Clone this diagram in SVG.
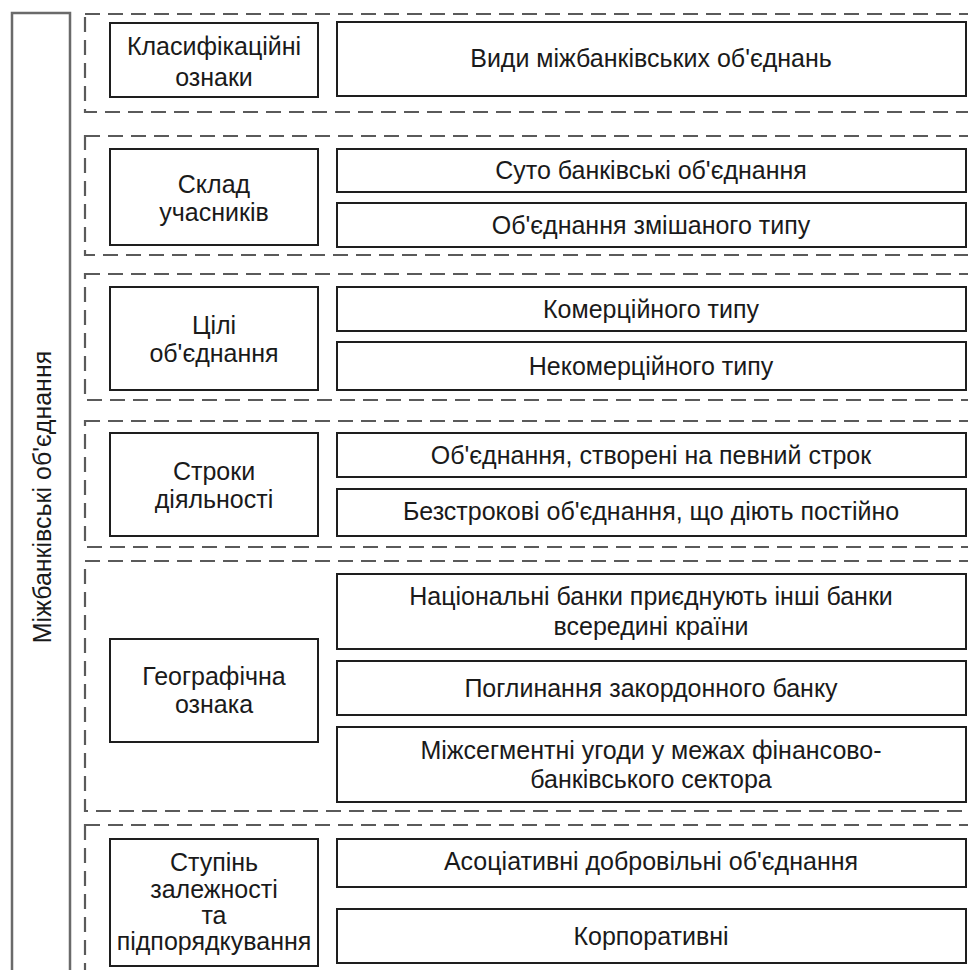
<svg xmlns="http://www.w3.org/2000/svg" width="968" height="970" viewBox="0 0 968 970">
<style>
.dash{fill:none;stroke:#5a5a5a;stroke-width:2.2;stroke-dasharray:15 8}
.box{fill:#fff;stroke:#1e1e1e;stroke-width:2}
.t{font-family:"Liberation Sans",Arial,sans-serif;font-size:25px;fill:#1a1a1a;text-anchor:middle}
</style>
<rect width="968" height="970" fill="#fff"/>
<g id="root">
<path d="M12 980 V13 H70 V980" fill="none" stroke="#6a6a6a" stroke-width="2.5"/>
<text class="t" transform="translate(51 497) rotate(-90)">Міжбанківські об'єднання</text>
</g>
<g id="groups">
<rect class="dash" x="85" y="14" width="900" height="98"/>
<rect class="dash" x="85" y="136" width="900" height="119"/>
<rect class="dash" x="85" y="274" width="900" height="126"/>
<rect class="dash" x="85" y="421" width="900" height="126"/>
<rect class="dash" x="85" y="561" width="900" height="250"/>
<rect class="dash" x="85" y="825" width="900" height="200"/>
</g>
<g id="g1">
<rect class="box" x="110" y="23" width="208" height="74"/>
<text class="t" x="214" y="55">Класифікаційні</text>
<text class="t" x="214" y="86">ознаки</text>
<rect class="box" x="337" y="22" width="629" height="74"/>
<text class="t" x="651" y="67">Види міжбанківських об'єднань</text>
</g>
<g id="g2">
<rect class="box" x="110" y="149" width="208" height="96"/>
<text class="t" x="214" y="193">Склад</text>
<text class="t" x="214" y="221">учасників</text>
<rect class="box" x="337" y="149" width="629" height="43"/>
<text class="t" x="651" y="179">Суто банківські об'єднання</text>
<rect class="box" x="337" y="203" width="629" height="44"/>
<text class="t" x="651" y="234">Об'єднання змішаного типу</text>
</g>
<g id="g3">
<rect class="box" x="110" y="287" width="208" height="103"/>
<text class="t" x="214" y="334">Цілі</text>
<text class="t" x="214" y="362">об'єднання</text>
<rect class="box" x="337" y="287" width="629" height="44"/>
<text class="t" x="651" y="318">Комерційного типу</text>
<rect class="box" x="337" y="342" width="629" height="48"/>
<text class="t" x="651" y="375">Некомерційного типу</text>
</g>
<g id="g4">
<rect class="box" x="110" y="433" width="208" height="103"/>
<text class="t" x="214" y="480">Строки</text>
<text class="t" x="214" y="508">діяльності</text>
<rect class="box" x="337" y="433" width="629" height="44"/>
<text class="t" x="651" y="464">Об'єднання, створені на певний строк</text>
<rect class="box" x="337" y="489" width="629" height="47"/>
<text class="t" x="651" y="520">Безстрокові об'єднання, що діють постійно</text>
</g>
<g id="g5">
<rect class="box" x="110" y="639" width="208" height="103"/>
<text class="t" x="214" y="685">Географічна</text>
<text class="t" x="214" y="713">ознака</text>
<rect class="box" x="337" y="574" width="629" height="75"/>
<text class="t" x="651" y="605">Національні банки приєднують інші банки</text>
<text class="t" x="651" y="635">всередині країни</text>
<rect class="box" x="337" y="661" width="629" height="54"/>
<text class="t" x="651" y="697">Поглинання закордонного банку</text>
<rect class="box" x="337" y="727" width="629" height="75"/>
<text class="t" x="651" y="759">Міжсегментні угоди у межах фінансово-</text>
<text class="t" x="651" y="788">банківського сектора</text>
</g>
<g id="g6">
<rect class="box" x="110" y="839" width="208" height="127"/>
<text class="t" x="214" y="871">Ступінь</text>
<text class="t" x="214" y="898">залежності</text>
<text class="t" x="214" y="924">та</text>
<text class="t" x="214" y="950">підпорядкування</text>
<rect class="box" x="337" y="839" width="629" height="48"/>
<text class="t" x="651" y="870">Асоціативні добровільні об'єднання</text>
<rect class="box" x="337" y="909" width="629" height="54"/>
<text class="t" x="651" y="945">Корпоративні</text>
</g>
</svg>
